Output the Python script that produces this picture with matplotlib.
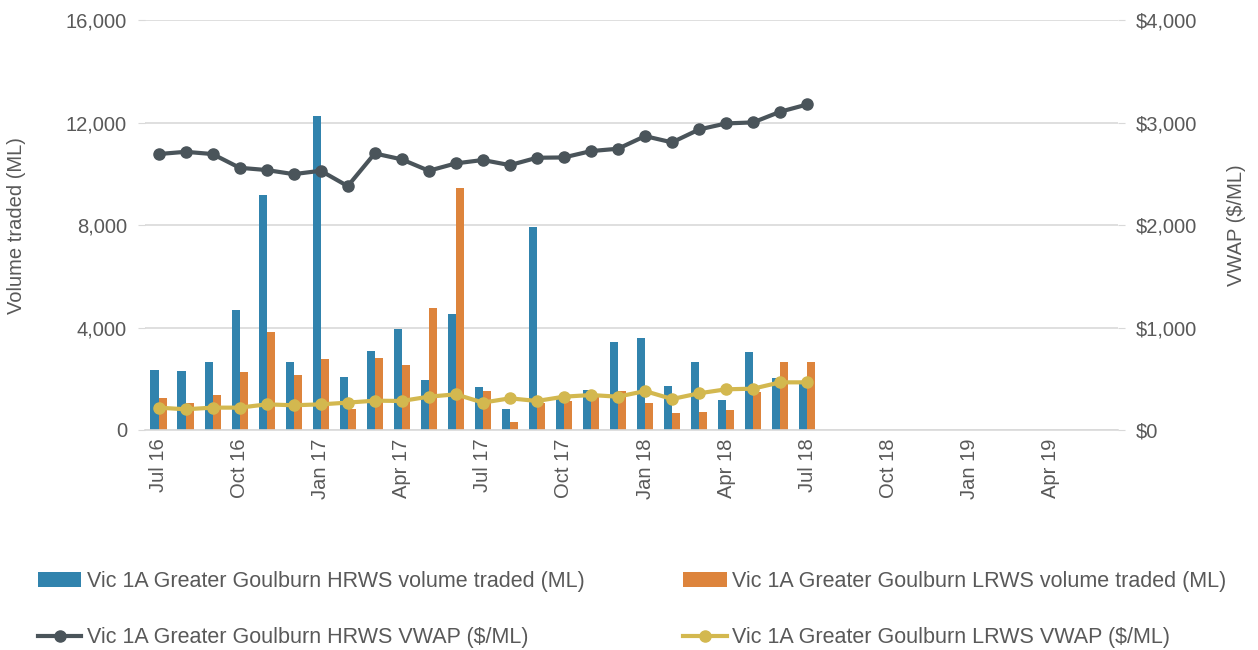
import matplotlib.pyplot as plt
import numpy as np
from matplotlib.ticker import FuncFormatter

plt.rcParams['font.family'] = ['Liberation Sans', 'DejaVu Sans']

months = ['Jul 16', 'Aug 16', 'Sep 16', 'Oct 16', 'Nov 16', 'Dec 16',
          'Jan 17', 'Feb 17', 'Mar 17', 'Apr 17', 'May 17', 'Jun 17',
          'Jul 17', 'Aug 17', 'Sep 17', 'Oct 17', 'Nov 17', 'Dec 17',
          'Jan 18', 'Feb 18', 'Mar 18', 'Apr 18', 'May 18', 'Jun 18',
          'Jul 18', 'Aug 18', 'Sep 18', 'Oct 18', 'Nov 18', 'Dec 18',
          'Jan 19', 'Feb 19', 'Mar 19', 'Apr 19', 'May 19', 'Jun 19']

# volumes (ML), Jul 16 - Jul 18
hrws_vol = [2340, 2310, 2660, 4680, 9170, 2640, 12260, 2070, 3080, 3950, 1960, 4520,
            1660, 810, 7920, 1260, 1560, 3450, 3580, 1720, 2670, 1160, 3030, 2030, 1800]
lrws_vol = [1230, 1040, 1380, 2250, 3820, 2150, 2770, 830, 2820, 2540, 4760, 9450,
            1520, 330, 1040, 1150, 1370, 1520, 1070, 650, 700, 770, 1470, 2640, 2660]

# VWAP ($/ML)
hrws_vwap = [2693, 2715, 2693, 2559, 2537, 2497, 2530, 2380, 2699, 2641, 2530, 2602,
             2635, 2585, 2657, 2660, 2722, 2745, 2868, 2807, 2933, 2992, 3002, 3106, 3177]
lrws_vwap = [218, 202, 218, 218, 250, 241, 250, 267, 286, 283, 325, 348,
             267, 309, 283, 325, 341, 325, 380, 302, 358, 397, 403, 465, 465]

blue = '#3183ad'
orange = '#dd843c'
dark = '#4a545a'
gold = '#d3b84f'
txt = '#595959'
fs = 14.5

fig = plt.figure(figsize=(12.58, 6.5), dpi=100)
ax = fig.add_axes([0.1153, 0.3385, 0.7734, 0.6305])
ax2 = ax.twinx()

x = np.arange(len(hrws_vol))
w = 0.3
ax.bar(x - w / 2, hrws_vol, w, color=blue, label='Vic 1A Greater Goulburn HRWS volume traded (ML)', zorder=2)
ax.bar(x + w / 2, lrws_vol, w, color=orange, label='Vic 1A Greater Goulburn LRWS volume traded (ML)', zorder=2)

ax2.plot(x, hrws_vwap, color=dark, lw=3, marker='o', ms=8,
         label='Vic 1A Greater Goulburn HRWS VWAP ($/ML)')
ax2.plot(x, lrws_vwap, color=gold, lw=3, marker='o', ms=8,
         label='Vic 1A Greater Goulburn LRWS VWAP ($/ML)')

ax.set_xlim(-0.5, len(months) - 0.5)
ax.set_ylim(0, 16000)
ax2.set_ylim(0, 4000)
ax.set_yticks(range(0, 16001, 4000))
ax2.set_yticks(range(0, 4001, 1000))
ax.yaxis.set_major_formatter(FuncFormatter(lambda v, p: f'{v:,.0f}'))
ax2.yaxis.set_major_formatter(FuncFormatter(lambda v, p: f'${v:,.0f}'))

ax.set_xticks(range(0, len(months), 3))
ax.set_xticklabels(months[::3], rotation=90)
ax.tick_params(axis='x', length=0, pad=6, labelsize=fs, labelcolor=txt)
ax.tick_params(axis='y', length=5, color='#d9d9d9', pad=8, labelsize=fs, labelcolor=txt)
ax2.tick_params(axis='y', length=5, color='#d9d9d9', pad=8, labelsize=fs, labelcolor=txt)

ax.grid(axis='y', color='#d9d9d9', lw=1.2, zorder=0)
ax.set_axisbelow(True)
for a in (ax, ax2):
    for s in a.spines.values():
        s.set_visible(False)
ax.spines['bottom'].set_visible(True)
ax.spines['bottom'].set_color('#d9d9d9')
ax.spines['bottom'].set_linewidth(1.2)

ax.set_ylabel('Volume traded (ML)', fontsize=fs, color=txt)
ax2.set_ylabel('VWAP ($/ML)', fontsize=fs, color=txt)
ax.yaxis.set_label_coords(-0.122, 0.5)
ax2.yaxis.set_label_coords(1.112, 0.5)

h1, l1 = ax.get_legend_handles_labels()
h2, l2 = ax2.get_legend_handles_labels()
fig.legend([h1[0], h2[0], h1[1], h2[1]], [l1[0], l2[0], l1[1], l2[1]],
           ncol=2, loc='lower left', bbox_to_anchor=(0.015, -0.027),
           frameon=False, fontsize=15.5, labelcolor=txt, columnspacing=4.6,
           handlelength=2.0, handletextpad=0.25, labelspacing=1.62)

fig.savefig('out.png', dpi=100)
